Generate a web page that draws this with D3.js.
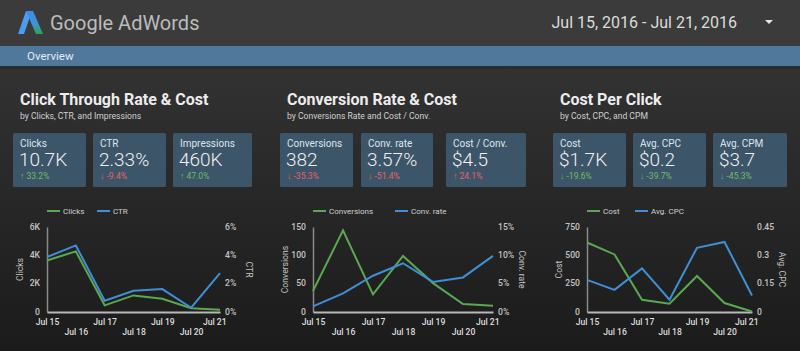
<!DOCTYPE html>
<html>
<head>
<meta charset="utf-8">
<script src="https://cdn.jsdelivr.net/npm/d3@7"></script>
<style>
  body { margin: 0; background: #222; }
  svg { display: block; font-family: Roboto, "Noto Sans", sans-serif; }
</style>
</head>
<body>
<div id="dash"></div>
<script>
// ---- data ----
const dates = ["Jul 15", "Jul 16", "Jul 17", "Jul 18", "Jul 19", "Jul 20", "Jul 21"];

const clicks = [3640, 4280, 470, 1170, 940, 260, 160];
const ctr = [3.88, 4.7, 0.8, 1.5, 1.62, 0.3, 2.75];

const conversions = [37, 144, 31, 99, 51, 14, 11];
const convRate = [1.0, 3.3, 6.4, 8.6, 5.3, 6.1, 9.9];

const cost = [613, 508, 108, 73, 318, 79, 5];
const avgCpc = [0.17, 0.117, 0.231, 0.065, 0.34, 0.371, 0.087];

const sectionTitles = ["Click Through Rate & Cost", "Conversion Rate & Cost", "Cost Per Click"];
const sectionSubtitles = ["by Clicks, CTR, and Impressions", "by Conversions Rate and Cost / Conv.", "by Cost, CPC, and CPM"];

const kpiLabels = [["Clicks", "CTR", "Impressions"], ["Conversions", "Conv. rate", "Cost / Conv."], ["Cost", "Avg. CPC", "Avg. CPM"]];
const kpiValues = [["10.7K", "2.33%", "460K"], ["382", "3.57%", "$4.5"], ["$1.7K", "$0.2", "$3.7"]];
const kpiDeltas = [["33.2%", "-9.4%", "47.0%"], ["-35.3%", "-51.4%", "24.1%"], ["-19.6%", "-39.7%", "-45.3%"]];
const kpiGood = [[true, false, true], [false, false, false], [true, true, true]];

const leftTicks = [[0, 2000, 4000, 6000], [0, 50, 100, 150], [0, 250, 500, 750]];
const leftTickLabels = [["0", "2K", "4K", "6K"], ["0", "50", "100", "150"], ["0", "250", "500", "750"]];
const rightTicks = [[0, 2, 4, 6], [0, 5, 10, 15], [0, 0.15, 0.3, 0.45]];
const rightTickLabels = [["0%", "2%", "4%", "6%"], ["0%", "5%", "10%", "15%"], ["0", "0.15", "0.3", "0.45"]];

const leftNames = ["Clicks", "Conversions", "Cost"];
const rightNames = ["CTR", "Conv. rate", "Avg. CPC"];
const leftSeries = [clicks, conversions, cost];
const rightSeries = [ctr, convRate, avgCpc];

// ---- layout ----
const W = 800, H = 351;
const GREEN = "#5aa84f", BLUE = "#3f8fd6";

const svg = d3.select("#dash").append("svg")
    .attr("width", W)
    .attr("height", H);

const defs = svg.append("defs");
const bg = defs.append("linearGradient").attr("id", "bg").attr("x1", 0).attr("y1", 0).attr("x2", 0).attr("y2", 1);
bg.append("stop").attr("offset", "0%").attr("stop-color", "#323232");
bg.append("stop").attr("offset", "100%").attr("stop-color", "#1b1b1b");
const lg = defs.append("linearGradient").attr("id", "logoR").attr("x1", 0).attr("y1", 0).attr("x2", 0).attr("y2", 1);
lg.append("stop").attr("offset", "0%").attr("stop-color", "#3d8ce8");
lg.append("stop").attr("offset", "55%").attr("stop-color", "#3a95d8");
lg.append("stop").attr("offset", "100%").attr("stop-color", "#2ea44f");

// header
svg.append("rect").attr("width", W).attr("height", H).attr("fill", "#3b3b3b");
svg.append("rect").attr("y", 69).attr("width", W).attr("height", H - 69).attr("fill", "url(#bg)");
svg.append("rect").attr("y", 46).attr("width", W).attr("height", 20).attr("fill", "#4f789b");
svg.append("rect").attr("y", 66).attr("width", W).attr("height", 3).attr("fill", "#2b2b2b");

// logo
const logo = svg.append("g");
logo.append("path").attr("d", "M26,11 L32,11 L24,34 L18,34 Z").attr("fill", "#4a9ef2");
logo.append("path").attr("d", "M26,11 L33,11 L43,34 L36,34 Z").attr("fill", "url(#logoR)");

svg.append("text").attr("x", 50).attr("y", 30)
    .attr("font-size", 20).attr("fill", "#bcbcbc")
    .text("Google AdWords");

svg.append("text").attr("x", 737).attr("y", 28).attr("text-anchor", "end")
    .attr("font-size", 16).attr("fill", "#dcdcdc")
    .text("Jul 15, 2016 - Jul 21, 2016");
svg.append("path").attr("d", "M765,20 L773,20 L769,24 Z").attr("fill", "#e8e8e8");

svg.append("text").attr("x", 27).attr("y", 60)
    .attr("font-size", 11.5).attr("fill", "#e3ebf3")
    .text("Overview");

// sections
const sectionX = [20, 287, 560];
const cardX = [[13, 93, 173], [280, 361, 446], [553, 633, 713]];
const cardW = [[73, 73, 79], [73, 72, 80], [73, 73, 74]];
const plotX = [[47, 220], [313, 493], [587, 752]];
const leftTitleX = [23, 288, 562];
const rightTitleX = [246, 519, 779];
const legendX = [[47, 97], [313, 395], [587, 635]];
const plotTop = 227, plotBottom = 312;

sectionTitles.forEach((title, s) => {
    const g = svg.append("g");

    g.append("text").attr("x", sectionX[s]).attr("y", 105)
        .attr("font-size", 16).attr("font-weight", 700).attr("fill", "#ececec")
        .text(title);
    g.append("text").attr("x", sectionX[s]).attr("y", 119)
        .attr("font-size", 8.6).attr("fill", "#d0d0d0")
        .text(sectionSubtitles[s]);

    // kpi cards
    kpiLabels[s].forEach((lab, k) => {
        const cx = cardX[s][k];
        g.append("rect").attr("x", cx).attr("y", 133).attr("width", cardW[s][k]).attr("height", 54)
            .attr("rx", 1.5).attr("fill", "#3d5569");
        g.append("text").attr("x", cx + 7).attr("y", 147)
            .attr("font-size", 10).attr("fill", "#dfe5ea").text(lab);
        g.append("text").attr("x", cx + 6).attr("y", 166)
            .attr("font-size", 19).attr("font-weight", 300).attr("fill", "#f0f0f0").text(kpiValues[s][k]);
        const d = kpiDeltas[s][k];
        const up = d[0] !== "-";
        g.append("text").attr("x", cx + 7).attr("y", 179)
            .attr("font-size", 8.6)
            .attr("fill", kpiGood[s][k] ? "#6dbb6a" : "#e4626a")
            .text((up ? "\u2191 " : "\u2193 ") + d);
    });

    // chart
    const x = d3.scalePoint().domain(dates).range(plotX[s]);
    const yL = d3.scaleLinear().domain([0, d3.max(leftTicks[s])]).range([plotBottom, plotTop]);
    const yR = d3.scaleLinear().domain([0, d3.max(rightTicks[s])]).range([plotBottom, plotTop]);

    const axL = d3.axisLeft(yL).tickValues(leftTicks[s])
        .tickFormat((v, i) => leftTickLabels[s][i]).tickSize(0).tickPadding(7);
    const axR = d3.axisRight(yR).tickValues(rightTicks[s])
        .tickFormat((v, i) => rightTickLabels[s][i]).tickSize(0).tickPadding(5);
    const axB = d3.axisBottom(x).tickSize(0).tickPadding(6.5);

    const gl = g.append("g").attr("transform", `translate(${plotX[s][0]},0)`).call(axL);
    gl.select(".domain").attr("stroke", "#8a8a8a").attr("stroke-width", 1.5);
    gl.selectAll(".tick text").attr("dy", "0.25em");
    const gr = g.append("g").attr("transform", `translate(${plotX[s][1]},0)`).call(axR);
    gr.select(".domain").remove();
    gr.selectAll(".tick text").attr("dy", "0.25em");
    const gb = g.append("g").attr("transform", `translate(0,${plotBottom})`).call(axB);
    gb.select(".domain").attr("stroke", "#b8b8b8").attr("stroke-width", 2);
    gb.selectAll(".tick text").attr("dy", (d, i) => i % 2 ? "1.95em" : "0.71em")
        .attr("text-anchor", (d, i) => i === dates.length - 1 ? "end" : "middle")
        .attr("dx", (d, i) => i === dates.length - 1 ? "0.7em" : 0);

    [gl, gr, gb].forEach(a => a.selectAll(".tick text")
        .attr("font-family", "Roboto, sans-serif").attr("font-size", 8.6)
        .attr("font-weight", 500).attr("fill", "#c4c4c4"));
    gb.selectAll(".tick text").attr("fill", "#dedede");

    // axis titles
    g.append("text").attr("transform", `translate(${leftTitleX[s]},${(plotTop + plotBottom) / 2}) rotate(-90)`)
        .attr("text-anchor", "middle").attr("font-size", 8.6).attr("fill", "#c4c4c4")
        .text(leftNames[s]);
    g.append("text").attr("transform", `translate(${rightTitleX[s]},${(plotTop + plotBottom) / 2}) rotate(90)`)
        .attr("text-anchor", "middle").attr("font-size", 8.6).attr("fill", "#c4c4c4")
        .text(rightNames[s]);

    // lines
    const lineL = d3.line().x((v, i) => x(dates[i])).y(v => yL(v));
    const lineR = d3.line().x((v, i) => x(dates[i])).y(v => yR(v));
    g.append("path").datum(leftSeries[s]).attr("d", lineL)
        .attr("fill", "none").attr("stroke", GREEN).attr("stroke-width", 2);
    g.append("path").datum(rightSeries[s]).attr("d", lineR)
        .attr("fill", "none").attr("stroke", BLUE).attr("stroke-width", 2);

    // legend
    [[leftNames[s], GREEN], [rightNames[s], BLUE]].forEach(([name, col], j) => {
        const lx = legendX[s][j];
        g.append("line").attr("x1", lx).attr("x2", lx + 13).attr("y1", 211).attr("y2", 211)
            .attr("stroke", col).attr("stroke-width", 2);
        g.append("text").attr("x", lx + 16).attr("y", 214)
            .attr("font-size", 8).attr("fill", "#cfcfcf").text(name);
    });
});
</script>
</body>
</html>
